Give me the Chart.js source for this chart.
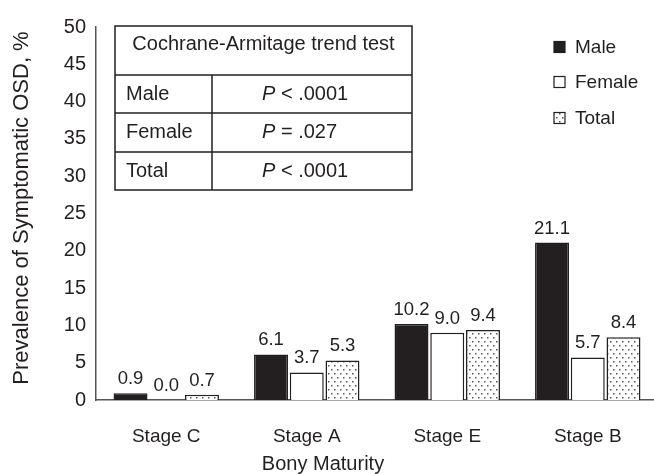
<!DOCTYPE html>
<html lang="en">
<head>
    <meta charset="UTF-8">
    <title>Prevalence of Symptomatic OSD by Bony Maturity</title>
    <script src="https://cdn.jsdelivr.net/npm/chart.js"></script>
    <style>
        body { margin: 0; overflow: hidden; background: #fff; }
        #wrap { width: 658px; height: 474px; }
    </style>
</head>
<body>
    <div id="wrap">
        <canvas id="chartOSD"></canvas>
    </div>

    <script>
        // data
        const categories = ['Stage C', 'Stage A', 'Stage E', 'Stage B'];
        const maleValues = [0.9, 6.1, 10.2, 21.1];
        const femaleValues = [0.0, 3.7, 9.0, 5.7];
        const totalValues = [0.7, 5.3, 9.4, 8.4];
        const seriesLabels = ['Male', 'Female', 'Total'];
        const yTicks = [0, 5, 10, 15, 20, 25, 30, 35, 40, 45, 50];
        const tableTitle = 'Cochrane-Armitage trend test';
        const tableGroups = ['Male', 'Female', 'Total'];
        const tableStats = ['< .0001', '= .027', '< .0001'];
        const xTitle = 'Bony Maturity';
        const yTitle = 'Prevalence of Symptomatic OSD, %';

        const ink = '#231f20';
        const font = '"Liberation Sans", Arial, sans-serif';

        // dotted fill for the Total bars
        function dotPattern() {
            const c = document.createElement('canvas');
            c.width = 6;
            c.height = 8;
            const g = c.getContext('2d');
            g.fillStyle = '#fff';
            g.fillRect(0, 0, 6, 8);
            g.fillStyle = '#555';
            g.fillRect(1, 1, 1.5, 1.5);
            g.fillRect(4, 5, 1.5, 1.5);
            return g.createPattern(c, 'repeat');
        }
        const dots = dotPattern();

        // value labels above each bar
        const valueLabels = {
            id: 'valueLabels',
            afterDatasetsDraw(chart) {
                const ctx = chart.ctx;
                ctx.save();
                ctx.font = '18.5px ' + font;
                ctx.fillStyle = ink;
                ctx.textAlign = 'center';
                ctx.textBaseline = 'alphabetic';
                chart.data.datasets.forEach((ds, i) => {
                    chart.getDatasetMeta(i).data.forEach((bar, j) => {
                        ctx.fillText(ds.data[j].toFixed(1), bar.x, bar.y - 9);
                    });
                });
                ctx.restore();
            }
        };

        // axis titles, legend at the top right and the trend test table
        const overlay = {
            id: 'overlay',
            afterDraw(chart) {
                const ctx = chart.ctx;
                ctx.save();
                ctx.textBaseline = 'middle';
                ctx.fillStyle = ink;

                // axis titles
                ctx.textAlign = 'center';
                ctx.font = '20px ' + font;
                ctx.fillText(xTitle, 323, 464);
                ctx.save();
                ctx.translate(22, 208);
                ctx.rotate(-Math.PI / 2);
                ctx.font = '22px ' + font;
                ctx.fillText(yTitle, 0, 0);
                ctx.restore();

                // legend
                const legendY = [47, 82, 118];
                chart.data.datasets.forEach((ds, i) => {
                    const y = legendY[i];
                    ctx.fillStyle = ds.backgroundColor;
                    ctx.fillRect(554, y - 5.5, 11, 11);
                    ctx.strokeStyle = ink;
                    ctx.lineWidth = 1.2;
                    ctx.strokeRect(554, y - 5.5, 11, 11);
                    ctx.fillStyle = ink;
                    ctx.font = '19px ' + font;
                    ctx.textAlign = 'left';
                    ctx.fillText(ds.label, 575, y + 1);
                });

                // table
                const left = 115, right = 412, mid = 212;
                const rows = [26, 75, 113, 152, 190];
                ctx.strokeStyle = ink;
                ctx.lineWidth = 1.5;
                ctx.strokeRect(left, rows[0], right - left, rows[4] - rows[0]);
                ctx.beginPath();
                for (let r = 1; r < 4; r++) {
                    ctx.moveTo(left, rows[r]);
                    ctx.lineTo(right, rows[r]);
                }
                ctx.moveTo(mid, rows[1]);
                ctx.lineTo(mid, rows[4]);
                ctx.stroke();

                ctx.fillStyle = ink;
                ctx.font = '20px ' + font;
                ctx.textAlign = 'center';
                ctx.fillText(tableTitle, (left + right) / 2, 44);
                ctx.textAlign = 'left';
                tableGroups.forEach((g, i) => {
                    const y = (rows[i + 1] + rows[i + 2]) / 2;
                    ctx.font = '20px ' + font;
                    ctx.fillText(g, 126, y);
                    ctx.font = 'italic 20px ' + font;
                    ctx.fillText('P', 262, y);
                    const w = ctx.measureText('P ').width;
                    ctx.font = '20px ' + font;
                    ctx.fillText(tableStats[i], 262 + w, y);
                });
                ctx.restore();
            }
        };

        const ctx = document.getElementById('chartOSD').getContext('2d');
        new Chart(ctx, {
            type: 'bar',
            data: {
                labels: categories,
                datasets: [
                    { label: seriesLabels[0], data: maleValues, backgroundColor: ink, borderColor: ink, borderWidth: 1.5 },
                    { label: seriesLabels[1], data: femaleValues, backgroundColor: '#fff', borderColor: ink, borderWidth: 1.5 },
                    { label: seriesLabels[2], data: totalValues, backgroundColor: dots, borderColor: ink, borderWidth: 1.5 }
                ]
            },
            options: {
                responsive: true,
                maintainAspectRatio: false,
                animation: false,
                categoryPercentage: 0.763,
                barPercentage: 0.95,
                layout: { padding: { top: 27, right: 0, left: 0, bottom: 0 } },
                plugins: {
                    legend: { display: false },
                    tooltip: { enabled: false }
                },
                scales: {
                    x: {
                        grid: { display: false, drawTicks: false },
                        border: { color: '#555', width: 1.5 },
                        ticks: { color: ink, font: { family: font, size: 19 }, padding: 25 },
                        afterFit(scale) { scale.height = 74; }
                    },
                    y: {
                        min: 0,
                        max: 50,
                        grid: { display: false, drawTicks: false },
                        border: { color: '#555', width: 1.5 },
                        afterBuildTicks(scale) { scale.ticks = yTicks.map(v => ({ value: v })); },
                        ticks: { color: ink, font: { family: font, size: 20 }, padding: 10 },
                        afterFit(scale) { scale.width = 96; }
                    }
                }
            },
            plugins: [valueLabels, overlay]
        });
    </script>
</body>
</html>
